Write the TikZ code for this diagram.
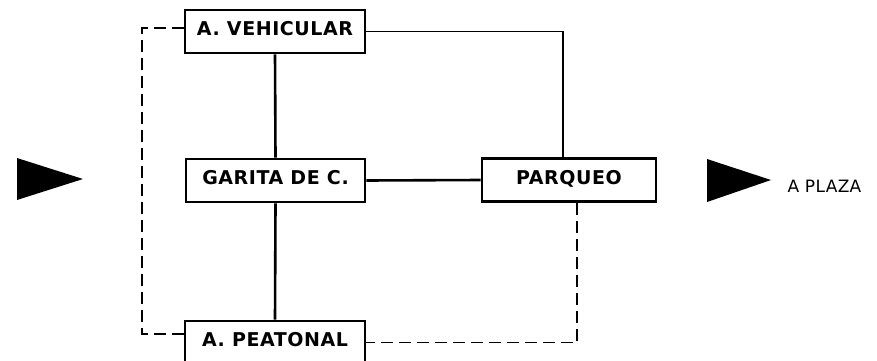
\documentclass[tikz,border=0pt]{standalone}
\usepackage{fontspec}
\setmainfont{DejaVu Sans}
\usetikzlibrary{calc}
\begin{document}
\begin{tikzpicture}[x=1pt,y=1pt,
  boxnode/.style={draw,line width=2.6pt,fill=white,inner sep=0pt,
    font=\fontsize{19}{22}\selectfont\bfseries\addfontfeature{LetterSpace=3},
    text height=11pt,text depth=3pt,
    minimum width=#1,minimum height=43pt},
  solidline/.style={line width=2.6pt},
  thinline/.style={line width=1.8pt},
  dashline/.style={line width=1.5pt,dash pattern=on 12pt off 6pt},
  arrowtri/.style={fill=black}]
\useasboundingbox (0,0) rectangle (877,360);
\clip (0,0) rectangle (877,360);
\node[boxnode=180pt] (veh) at (275,328.5) {A. VEHICULAR};
\node[boxnode=179pt] (gar) at (275.5,179.5) {GARITA DE C.};
\node[boxnode=174pt] (par) at (569,180) {PARQUEO};
\node[boxnode=180pt] (pea) at (275,17.5) {A. PEATONAL};
\coordinate (vehl) at ($(veh.west)+(0,3.5)$);
\coordinate (peal) at ($(pea.west)+(0,8.5)$);
\coordinate (part) at ($(par.north)+(-6,0)$);
\coordinate (parb) at ($(par.south)+(8,0)$);
\coordinate (leftx) at (142,0);
\draw[solidline] (veh.south) -- (gar.north);
\draw[solidline] (gar.south) -- (pea.north);
\draw[solidline] (gar.east) -- (par.west);
\draw[thinline] (veh.east) -| (part);
\draw[dashline] (parb) |- (pea.east);
\draw[dashline] (vehl) -- (vehl -| leftx) -- (peal -| leftx) -- (peal);
\fill[arrowtri] (17,202) -- (83,181) -- (17,160) -- cycle;
\fill[arrowtri] (707,201) -- (771,180) -- (707,158) -- cycle;
\node[font=\fontsize{17}{19}\selectfont\addfontfeature{LetterSpace=2},inner sep=0pt] (plaza) at (824.5,174) {A PLAZA};
\end{tikzpicture}
\end{document}
